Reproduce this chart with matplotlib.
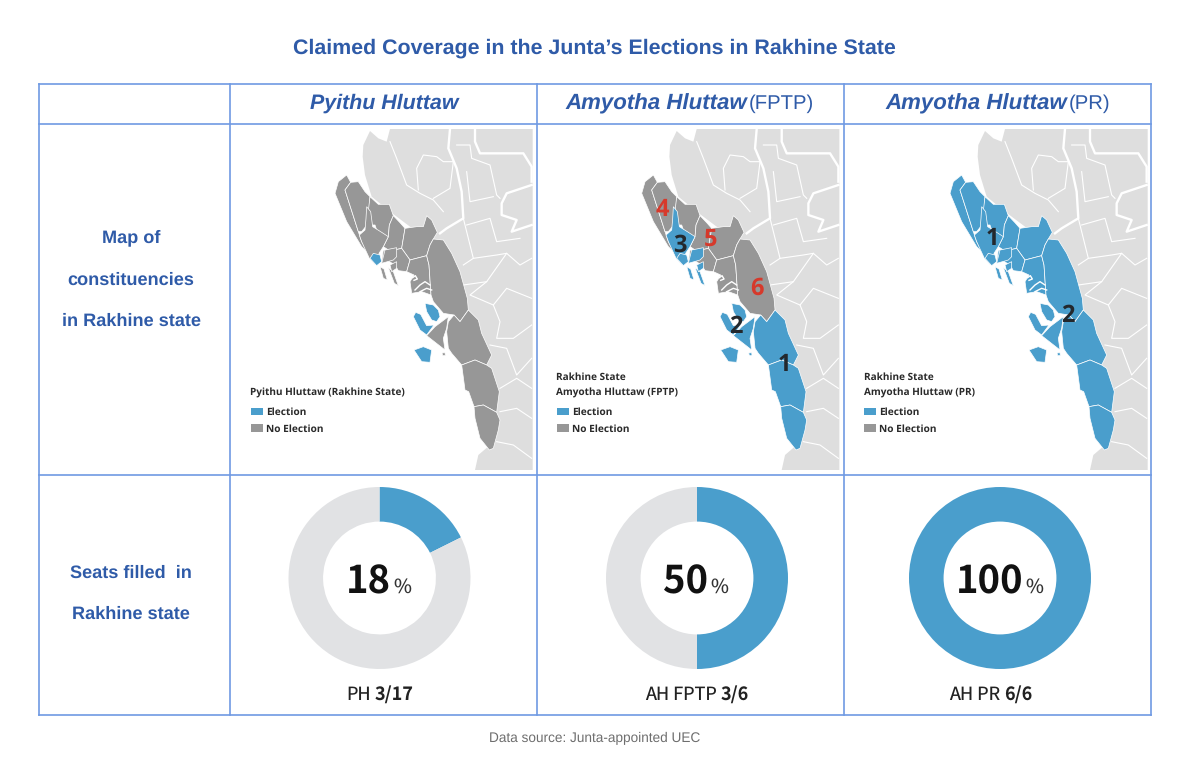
import matplotlib
matplotlib.use('Agg')
import matplotlib.pyplot as plt
from matplotlib.patches import Polygon, Rectangle

plt.rcParams['text.hinting'] = 'no_hinting'

W, H = 1200, 761
BLUE = '#4A9ECC'
GREY = '#979797'
LAND = '#DEDEDE'
TITLE = '#2F5BA8'
LINE = '#6F9AE3'

columns = ['Pyithu Hluttaw', 'Amyotha Hluttaw', 'Amyotha Hluttaw']
column_suffix = ['', '(FPTP)', '(PR)']
seats_filled = [3, 3, 6]
seats_total = [17, 6, 6]
percent_labels = ['18', '50', '100']
seat_names = ['PH', 'AH FPTP', 'AH PR']
legend_titles = [['Pyithu Hluttaw (Rakhine State)'],
                 ['Rakhine State', 'Amyotha Hluttaw (FPTP)'],
                 ['Rakhine State', 'Amyotha Hluttaw (PR)']]
row_labels = ['Map of', 'constituencies', 'in Rakhine state', 'Seats filled  in', 'Rakhine state']

# map outlines (3x zoom px inside a cell)
land = [(400, 60), (420, 18), (445, 40), (470, 50), (480, 12), (908, 12), (908, 1035), (735, 1035), (745, 990),
        (780, 960), (770, 850), (740, 720), (680, 560), (640, 400), (560, 320), (480, 260), (425, 215),
        (405, 150), (398, 95)]
state_borders = [
    [(660, 12), (655, 70), (680, 130), (695, 200), (700, 280), (650, 310), (630, 325)],
    [(735, 12), (735, 50), (750, 85), (880, 85), (905, 125), (905, 170)],
    [(905, 180), (830, 205), (815, 235), (815, 270), (860, 285), (845, 320), (905, 300)],
]
township_borders = [
    [(480, 50), (500, 100), (530, 180), (570, 205), (610, 225), (640, 260)],
    [(565, 195), (560, 130), (580, 90), (620, 95), (640, 110), (670, 110), (660, 190), (610, 220)],
    [(680, 60), (720, 60), (725, 100), (780, 120), (800, 210), (810, 220)],
    [(710, 140), (720, 230), (790, 215)],
    [(700, 280), (730, 400), (700, 420)],
    [(710, 300), (780, 280), (800, 350), (870, 340)],
    [(730, 400), (800, 390), (830, 385), (870, 420), (905, 400)],
    [(700, 480), (770, 470), (830, 385)],
    [(770, 470), (720, 510), (790, 540), (810, 590), (800, 640), (850, 640), (905, 600)],
    [(790, 540), (830, 490), (905, 520)],
    [(780, 660), (830, 670), (860, 750), (905, 700)],
    [(810, 790), (860, 760), (905, 790)],
    [(810, 860), (860, 850), (905, 880)],
    [(800, 950), (850, 960), (905, 1000)],
]
nw_strip = [(350, 150), (362, 172), (345, 195), (385, 320), (395, 350), (418, 388), (395, 365), (350, 290), (315, 205), (325, 170)]
buthidaung = [(362, 172), (385, 170), (405, 200), (420, 215), (415, 295), (395, 320), (385, 320), (345, 195)]
rathedaung = [(420, 215), (445, 238), (478, 238), (490, 272), (478, 300), (475, 335), (450, 345), (435, 300), (410, 300)]
sittwe_strip = [(410, 245), (422, 260), (428, 305), (455, 322), (475, 335), (460, 365), (447, 385), (450, 410), (435, 418),
                (418, 400), (395, 350), (388, 330), (405, 315), (408, 280)]
sittwe = [(430, 385), (450, 390), (455, 410), (440, 422), (420, 400)]
kyauktaw = [(478, 300), (490, 272), (510, 293), (525, 310), (515, 370), (480, 378), (460, 365), (475, 335)]
mrauk = [(525, 310), (560, 305), (580, 305), (590, 272), (605, 285), (622, 322), (610, 342), (600, 360), (590, 392), (540, 405), (515, 370)]
pauktaw = [(460, 375), (480, 378), (515, 370), (540, 405), (530, 440), (505, 437), (495, 420), (470, 405), (455, 410)]
myebon = [(540, 405), (590, 392), (597, 420), (603, 510), (575, 500), (545, 505), (540, 470), (552, 450), (530, 440)]
ann = [(610, 342), (640, 345), (665, 385), (690, 440), (712, 520), (715, 555), (690, 590), (672, 570), (640, 565), (610, 530), (603, 510),
       (597, 420), (590, 392), (600, 360)]
ramree_n = [(585, 535), (610, 540), (625, 555), (630, 575), (620, 590), (605, 585), (590, 560)]
ramree = [(557, 562), (572, 568), (590, 602), (612, 600), (590, 630), (570, 615), (550, 575)]
kyaukpyu = [(655, 575), (650, 610), (640, 640), (645, 675), (590, 632), (615, 605)]
taungup = [(715, 555), (745, 585), (755, 625), (785, 690), (770, 720), (735, 705), (695, 720), (665, 685), (655, 670), (650, 620), (655, 590),
           (672, 570), (690, 590)]
thandwe = [(695, 720), (735, 705), (770, 720), (785, 730), (808, 800), (800, 862), (760, 840), (732, 845), (716, 800), (705, 795)]
gwa = [(732, 845), (760, 840), (800, 862), (810, 885), (805, 915), (790, 970), (778, 975), (750, 940), (735, 880)]
cheduba = [(552, 675), (580, 665), (605, 675), (600, 712), (575, 710)]
islet_a = [(450, 425), (462, 432), (472, 465), (460, 460)]
islet_b = [(475, 428), (490, 440), (505, 482), (493, 475)]
islet_c = [(636, 684), (645, 683), (646, 692), (638, 692)]
bay_t1 = [(465, 375), (500, 368), (500, 395), (490, 405), (455, 415)]
bay_t2 = [(480, 420), (500, 410), (500, 430), (485, 440)]
myebon_creeks = [[(548, 458), (556, 452), (562, 462), (552, 466)],
                 [(555, 495), (570, 480), (585, 470), (600, 480)],
                 [(570, 500), (590, 490), (605, 495)]]

regions = [nw_strip, buthidaung, rathedaung, kyauktaw, mrauk, pauktaw, myebon, ann, kyaukpyu, taungup, thandwe, gwa, ramree_n,
           ramree, cheduba, islet_a, islet_b, islet_c, sittwe_strip, bay_t1, bay_t2, sittwe]
names = ['nw_strip', 'buthidaung', 'rathedaung', 'kyauktaw', 'mrauk', 'pauktaw', 'myebon', 'ann', 'kyaukpyu', 'taungup', 'thandwe', 'gwa',
         'ramree_n', 'ramree', 'cheduba', 'islet_a', 'islet_b', 'islet_c', 'sittwe_strip', 'bay_t1', 'bay_t2', 'sittwe']
election_ph = ['sittwe', 'ramree_n', 'ramree', 'cheduba']
election_fptp = ['sittwe_strip', 'sittwe', 'bay_t1', 'bay_t2', 'islet_a', 'islet_b', 'islet_c', 'ramree_n', 'ramree', 'kyaukpyu', 'cheduba',
                 'taungup', 'thandwe', 'gwa']
election_pr = names
election = [election_ph, election_fptp, election_pr]

constituency_no = [[], ['1', '2', '3', '4', '5', '6'], ['1', '2']]
constituency_xy = [[], [(743, 720), (598, 605), (430, 362), (378, 255), (523, 345), (660, 490)], [(442, 340), (670, 572)]]
constituency_red = ['4', '5', '6']

fig = plt.figure(figsize=(W / 100, H / 100), dpi=100, facecolor='white')
ax = fig.add_axes([0, 0, 1, 1])
ax.set_xlim(0, W)
ax.set_ylim(H, 0)
ax.axis('off')

col_x = [229.5, 536.5, 843.5]
map_x = [230, 536.7, 845]
donut_x = [379.5, 697, 1000]
legend_x = [250.7, 556.7, 864]
map_y = 125
sans = 'Liberation Sans'
kr = 'Noto Sans CJK KR'
opens = 'Open Sans'


def cell_xy(points, col):
    return [(map_x[col] + x / 3, map_y + y / 3) for x, y in points]


ax.text(594, 48.5, 'Claimed Coverage in the Junta\u2019s Elections in Rakhine State', ha='center', va='center',
        fontsize=15.4, fontweight='bold', color=TITLE, family=sans)
ax.text(594.5, 738, 'Data source: Junta-appointed UEC', ha='center', va='center', fontsize=9.8, color='#6E6E6E', family=sans)

for col in range(3):
    ax.add_patch(Polygon(cell_xy(land, col), closed=True, fc=LAND, ec='none', zorder=1))
    for border in township_borders:
        xs, ys = zip(*cell_xy(border, col))
        ax.plot(xs, ys, color='white', lw=0.8, zorder=2)
    for border in state_borders:
        xs, ys = zip(*cell_xy(border, col))
        ax.plot(xs, ys, color='white', lw=1.7, zorder=2)
    for name, region in zip(names, regions):
        color = BLUE if name in election[col] else GREY
        ax.add_patch(Polygon(cell_xy(region, col), closed=True, fc=color, ec='white', lw=0.5, zorder=3))
    for creek in myebon_creeks:
        xs, ys = zip(*cell_xy(creek, col))
        ax.plot(xs, ys, color='white', lw=1.0, zorder=4)
    for label, xy in zip(constituency_no[col], constituency_xy[col]):
        x, y = cell_xy([xy], col)[0]
        red = col == 1 and label in constituency_red
        ax.text(x, y, label, ha='center', va='center', fontsize=17, fontweight='bold', family=opens,
                color='#D6392B' if red else '#23282D', zorder=5)

    # map legend
    lx = legend_x[col]
    n = len(legend_titles[col])
    for i, line in enumerate(legend_titles[col]):
        ax.text(lx - 0.5, 392.5 - (n - 1 - i) * 15, line, ha='left', va='center', fontsize=7.2, fontweight='bold',
                color='#2A2A2A', family=opens, zorder=5)
    ax.add_patch(Rectangle((lx, 407.7), 12, 7.5, fc=BLUE, ec='none', zorder=5))
    ax.add_patch(Rectangle((lx, 424.4), 12, 7.5, fc=GREY, ec='none', zorder=5))
    ax.text(lx + 15, 412, 'Election', ha='left', va='center', fontsize=7.3, fontweight='bold', color='#2A2A2A', family=opens, zorder=5)
    ax.text(lx + 15, 429, 'No Election', ha='left', va='center', fontsize=7.3, fontweight='bold', color='#2A2A2A', family=opens, zorder=5)

    # header
    if column_suffix[col]:
        xm = [0, 747, 1067][col]
        ax.text(xm, 109, columns[col], ha='right', va='baseline', fontsize=16, fontweight='bold', style='italic', color=TITLE, family=sans)
        ax.text(xm + 2, 109, column_suffix[col], ha='left', va='baseline', fontsize=14.6, color=TITLE, family=sans)
    else:
        ax.text(384.5, 109, columns[col], ha='center', va='baseline', fontsize=15.4, fontweight='bold', style='italic', color=TITLE, family=sans)

    # donut
    r = 91
    cx, cy = donut_x[col], 578
    dax = fig.add_axes([(cx - r) / W, 1 - (cy + r) / H, 2 * r / W, 2 * r / H])
    dax.pie([seats_filled[col], seats_total[col] - seats_filled[col]], colors=[BLUE, '#E1E2E4'], startangle=90, counterclock=False,
            radius=1, wedgeprops={'width': 0.38, 'linewidth': 0})
    dax.set_xlim(-1, 1)
    dax.set_ylim(-1, 1)
    dax.patch.set_alpha(0)

digits_right = [391, 708, 1023]
caption_split = [371, 717, 1000]
for col in range(3):
    ax.text(digits_right[col], 593, percent_labels[col], ha='right', va='baseline', fontsize=27.5, fontweight='bold', color='#111111', family=kr, zorder=6)
    ax.text(digits_right[col] + 2, 593, '%', ha='left', va='baseline', fontsize=14, color='#333333', family=kr, zorder=6)
    ax.text(caption_split[col], 700, seat_names[col], ha='right', va='baseline', fontsize=13, color='#222222', family=kr)
    ax.text(caption_split[col] + 4, 700, f'{seats_filled[col]}/{seats_total[col]}', ha='left', va='baseline', fontsize=13,
            fontweight='bold', color='#222222', family=kr)

row_y = [238, 280, 321, 573, 614]
for y, line in zip(row_y, row_labels):
    ax.text(131, y, line, ha='center', va='center', fontsize=13.1, fontweight='bold', color=TITLE, family=sans)

# table rules
for x in [38.5] + col_x + [1151]:
    ax.plot([x, x], [84, 715], color=LINE, lw=1.2, zorder=7, solid_capstyle='projecting')
for y in [84, 123.5, 475, 715]:
    ax.plot([38.5, 1151], [y, y], color=LINE, lw=1.2, zorder=7, solid_capstyle='projecting')

fig.savefig('out.png', dpi=100)
